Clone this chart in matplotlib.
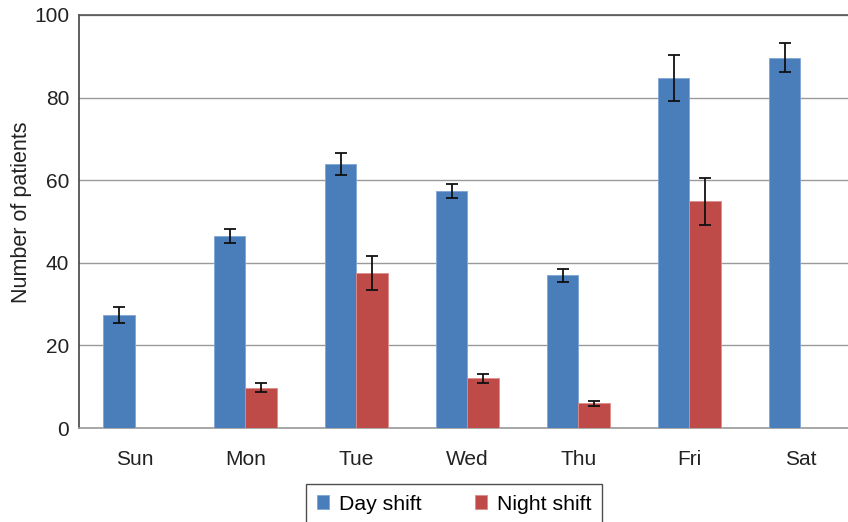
import numpy as np
import matplotlib
matplotlib.use("Agg")
import matplotlib.pyplot as plt

# data
days = ["Sun", "Mon", "Tue", "Wed", "Thu", "Fri", "Sat"]
day_shift = [27.3, 46.5, 64.0, 57.5, 37.0, 84.8, 89.6]
day_err = [1.9, 1.8, 2.7, 1.7, 1.6, 5.6, 3.5]
night_shift = [np.nan, 9.8, 37.5, 12.0, 6.0, 54.9, np.nan]
night_err = [np.nan, 1.1, 4.1, 1.0, 0.6, 5.7, np.nan]

BLUE = "#4A7EBB"
RED = "#BE4B48"

plt.rcParams["font.family"] = ["Liberation Sans", "DejaVu Sans"]

fig = plt.figure(figsize=(8.48, 5.22), dpi=100)
# right edge runs past the picture like in the reference
ax = fig.add_axes([79 / 848, 1 - 428 / 522, 777 / 848, 413 / 522])

x = np.arange(len(days))
w = 0.288
err_kw = dict(ecolor="#111111", elinewidth=1.3, capsize=4.5, capthick=1.3)

ax.bar(x - w / 2, day_shift, w, yerr=day_err, color=BLUE, edgecolor="#7FA6D6",
       linewidth=0.6, label="Day shift", error_kw=err_kw, zorder=3)
ax.bar(x + w / 2, night_shift, w, yerr=night_err, color=RED, edgecolor="#E08C8A",
       linewidth=0.6, label="Night shift", error_kw=err_kw, zorder=3)

ax.set_xlim(-0.5, len(days) - 0.5)
ax.set_ylim(0, 100)
ax.set_yticks(range(0, 101, 20))
ax.set_xticks(x)
ax.set_xticklabels(days)
ax.tick_params(axis="x", length=0, pad=16, labelsize=15, colors="#222222")
ax.tick_params(axis="y", length=0, pad=7, labelsize=15, colors="#222222")
ax.set_ylabel("Number of patients", fontsize=15.5, color="#222222")
ax.yaxis.set_label_coords(-0.061, 0.522)

ax.grid(axis="y", color="#9a9a9a", linewidth=1.0, zorder=0)
ax.spines["right"].set_visible(False)
ax.spines["top"].set_color("#555555")
ax.spines["left"].set_color("#444444")
ax.spines["bottom"].set_color("#9a9a9a")
for s in ("top", "left", "bottom"):
    ax.spines[s].set_linewidth(1.2)

leg = fig.legend(loc="upper left", bbox_to_anchor=(306 / 848, 1 - 484 / 522),
                 ncol=2, frameon=True, fancybox=False, fontsize=15.3,
                 handlelength=0.6, handleheight=0.6, handletextpad=0.45,
                 columnspacing=2.5, borderpad=0.5, borderaxespad=0)
leg.get_frame().set_edgecolor("#222222")
leg.get_frame().set_linewidth(1.0)

fig.savefig("out.png", dpi=100)
